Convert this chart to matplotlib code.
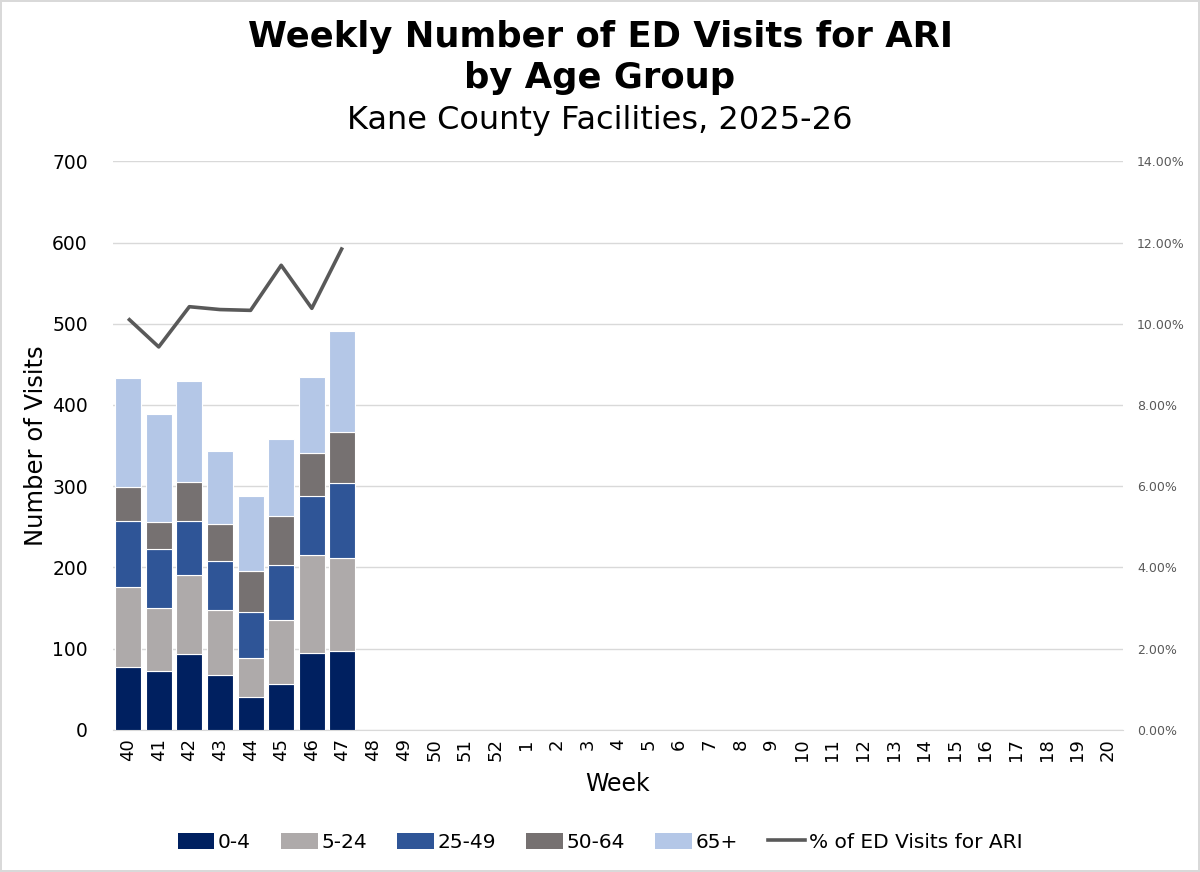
import matplotlib
matplotlib.use("Agg")
import matplotlib.pyplot as plt
from matplotlib.lines import Line2D
from matplotlib.patches import Patch
import numpy as np

weeks = ["40", "41", "42", "43", "44", "45", "46", "47", "48", "49", "50", "51", "52",
         "1", "2", "3", "4", "5", "6", "7", "8", "9", "10", "11", "12", "13", "14",
         "15", "16", "17", "18", "19", "20"]
age_0_4 = [78, 73, 93, 67, 41, 56, 95, 97]
age_5_24 = [98, 77, 98, 80, 47, 79, 120, 114]
age_25_49 = [81, 73, 66, 61, 57, 68, 73, 93]
age_50_64 = [42, 33, 48, 46, 51, 60, 53, 63]
age_65p = [134, 133, 124, 89, 92, 95, 93, 124]
pct_ari = [10.13, 9.43, 10.42, 10.35, 10.33, 11.44, 10.38, 11.88]

series = [("0-4", age_0_4, "#002060"), ("5-24", age_5_24, "#AEAAAA"),
          ("25-49", age_25_49, "#2F5597"), ("50-64", age_50_64, "#767171"),
          ("65+", age_65p, "#B4C7E7")]

plt.rcParams['font.family'] = ['DejaVu Sans']
fig = plt.figure(figsize=(12, 8.72), dpi=100)
fig.patch.set_edgecolor("#D9D9D9")
fig.patch.set_linewidth(1.5)
ax = fig.add_axes([0.094, 0.163, 0.842, 0.652])
ax2 = ax.twinx()

x_all = np.arange(len(weeks))
n = len(age_0_4)
x = x_all[:n]
bottom = np.zeros(n)
for name, vals, col in series:
    v = np.array(vals, dtype=float)
    ax.bar(x, v, 0.85, bottom=bottom, color=col, edgecolor="white", linewidth=0.8, zorder=3)
    bottom += v

ax2.plot(x, pct_ari, color="#595959", lw=2.6, zorder=4, solid_capstyle="butt")

ax.set_xlim(-0.5, len(weeks) - 0.5)
ax.set_ylim(0, 700)
ax.set_yticks(range(0, 701, 100))
ax.set_xticks(x_all)
ax.set_xticklabels(weeks, rotation=90, fontsize=13)
ax.tick_params(axis="y", labelsize=13.5, length=0, pad=18)
ax.tick_params(axis="x", length=0, pad=6)
ax.grid(axis="y", color="#D9D9D9", lw=1, zorder=0)
ax.set_axisbelow(True)
for s in ["top", "right", "left"]:
    ax.spines[s].set_visible(False)
    ax2.spines[s].set_visible(False)
ax.spines["bottom"].set_color("#D9D9D9")
ax2.spines["bottom"].set_visible(False)

ax2.set_ylim(0, 14)
ax2.set_yticks(range(0, 15, 2))
ax2.set_yticklabels([f"{v:.2f}%" for v in range(0, 15, 2)])
ax2.tick_params(axis="y", labelsize=9, length=0, labelcolor="#595959", pad=10)

ax.set_xlabel("Week", fontsize=17, labelpad=8)
ax.set_ylabel("Number of Visits", fontsize=17.5, labelpad=3)

fig.text(0.5, 0.957, "Weekly Number of ED Visits for ARI", ha="center", va="center",
         fontsize=25.5, fontweight="bold")
fig.text(0.5, 0.910, "by Age Group", ha="center", va="center", fontsize=25.5, fontweight="bold")
fig.text(0.5, 0.862, "Kane County Facilities, 2025-26", ha="center", va="center", fontsize=23)

handles = [Patch(facecolor=c, label=nm) for nm, _, c in series]
handles.append(Line2D([0], [0], color="#595959", lw=2.6, label="% of ED Visits for ARI"))
fig.legend(handles=handles, loc="center", bbox_to_anchor=(0.5, 0.034), ncol=6, frameon=False,
           fontsize=14.5, handlelength=1.8, handleheight=0.9, handletextpad=0.2, columnspacing=1.5)

fig.savefig("out.png", dpi=100)
